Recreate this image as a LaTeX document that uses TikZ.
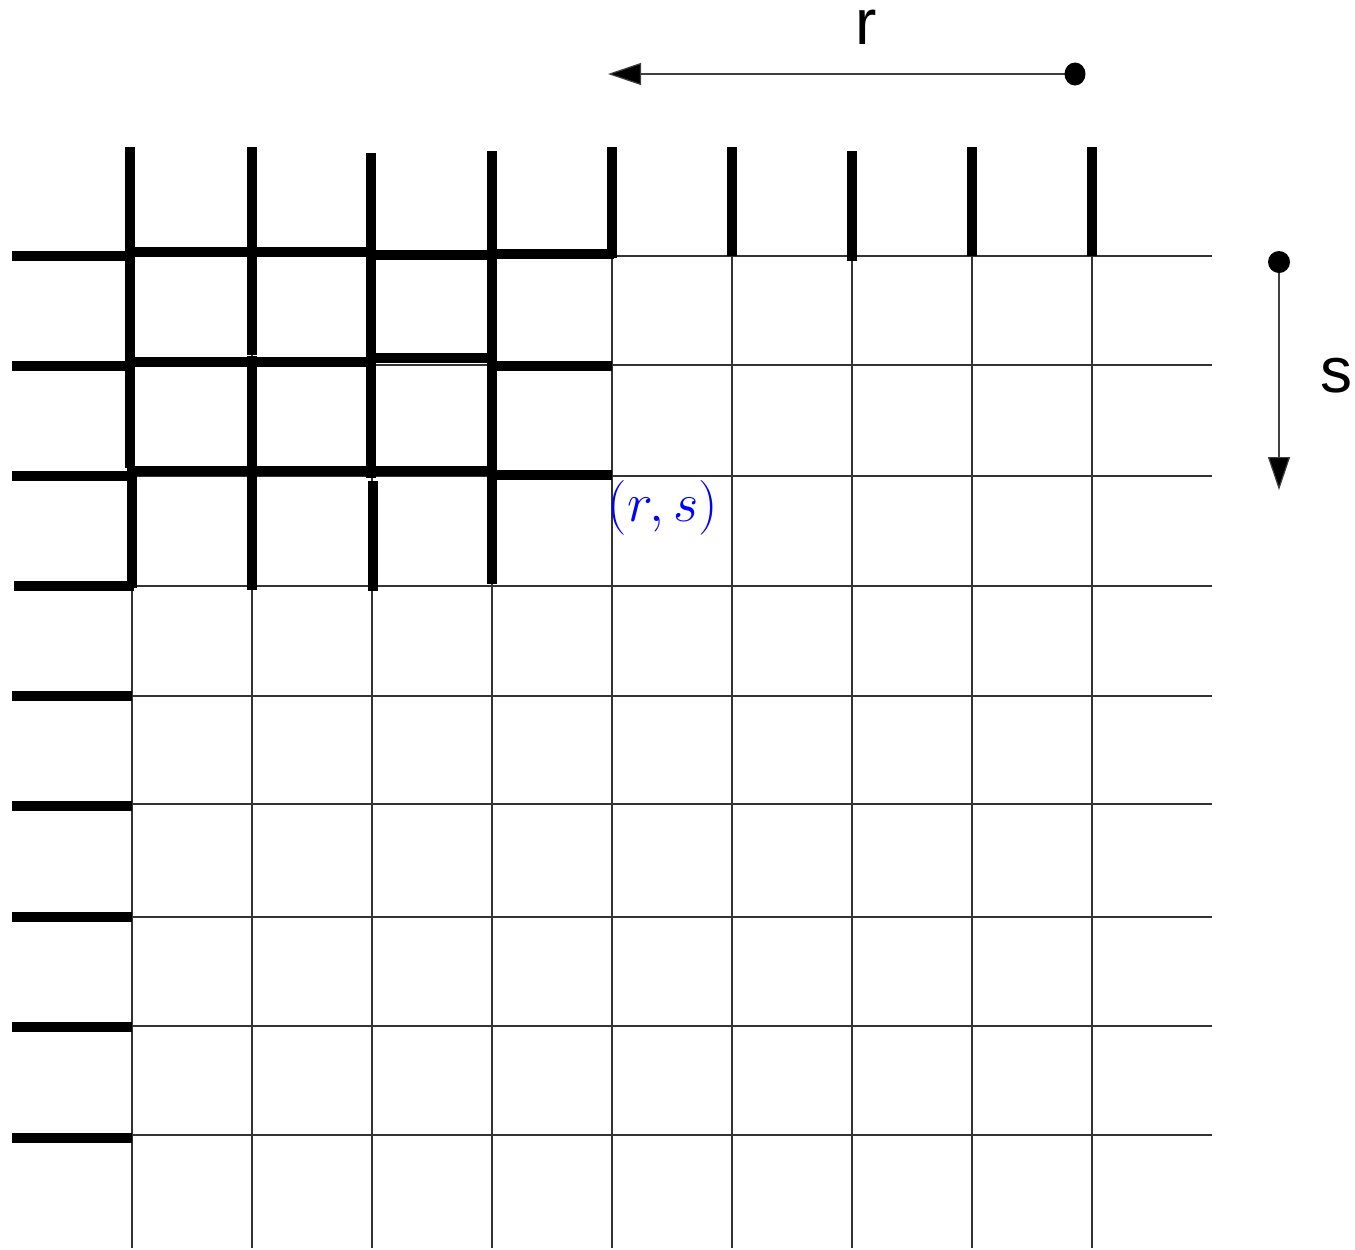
\documentclass[tikz,border=0pt]{standalone}
\usepackage{fontspec}
\newfontfamily\lab{Liberation Sans}
\usetikzlibrary{arrows.meta}
\tikzset{
  thin grid/.style={line width=0.55pt, black!80},
  thick/.style={line width=4.6pt, black, line cap=butt},
  dirarrow/.style={line width=0.6pt, black!75, -{Triangle[length=16.5pt,width=11pt,fill=black]}},
  dotmark/.style={fill=black, draw=none},
  axislab/.style={font=\lab\fontsize{32}{36}\selectfont, inner sep=0pt},
}
\begin{document}
\begin{tikzpicture}[x=0.5pt,y=-0.5pt]
\useasboundingbox (0,0) rectangle (1355,1249);
% thin grid
\foreach \x in {132,252,372,492,612,732,852,972,1092}
  \draw[thin grid] (\x,256) -- (\x,1248);
\foreach \y in {256,365,476,586,696,804,917,1026,1135}
  \draw[thin grid] (132,\y) -- (1212,\y);
% thick vertical segments
\draw[thick] (130,147) -- (130,468);
\draw[thick] (132,468) -- (132,588);
\draw[thick] (252,147) -- (252,355);
\draw[thick] (252,356) -- (252,590);
\draw[thick] (371,153) -- (371,478);
\draw[thick] (373,481) -- (373,591);
\draw[thick] (492,151) -- (492,584);
\draw[thick] (612,147) -- (612,258);
\draw[thick] (732,147) -- (732,256);
\draw[thick] (852,151) -- (852,261);
\draw[thick] (972,147) -- (972,256);
\draw[thick] (1092,147) -- (1092,256);
% thick horizontal segments
\draw[thick] (12,256) -- (130,256);
\draw[thick] (130,252) -- (367,252);
\draw[thick] (367,255) -- (492,255);
\draw[thick] (492,254) -- (614,254);
\draw[thick] (12,366) -- (130,366);
\draw[thick] (130,362) -- (371,362);
\draw[thick] (371,358) -- (492,358);
\draw[thick] (492,366) -- (612,366);
\draw[thick] (12,476) -- (130,476);
\draw[thick] (130,471) -- (492,471);
\draw[thick] (492,475) -- (612,475);
\draw[thick] (14,586) -- (134,586);
\foreach \y in {696,806,917,1027,1138}
  \draw[thick] (12,\y) -- (132,\y);
% direction arrows
\coordinate (rstart) at (1075,74);
\coordinate (rend) at (608,74);
\coordinate (sstart) at (1279,262);
\coordinate (send) at (1279,490);
\draw[dirarrow] (rstart) -- (rend);
\draw[dirarrow] (sstart) -- (send);
\fill[dotmark] (rstart) ellipse [x radius=10.5, y radius=11.5];
\fill[dotmark] (sstart) ellipse [x radius=11, y radius=11];
\node[axislab] (rlab) at (866,27) {r};
\node[axislab] (slab) at (1336,376) {s};
\node[blue, inner sep=0pt, scale=1.1, font=\fontsize{24}{28}\selectfont] (rs) at (663,508) {$(r,s)$};
\end{tikzpicture}
\end{document}
